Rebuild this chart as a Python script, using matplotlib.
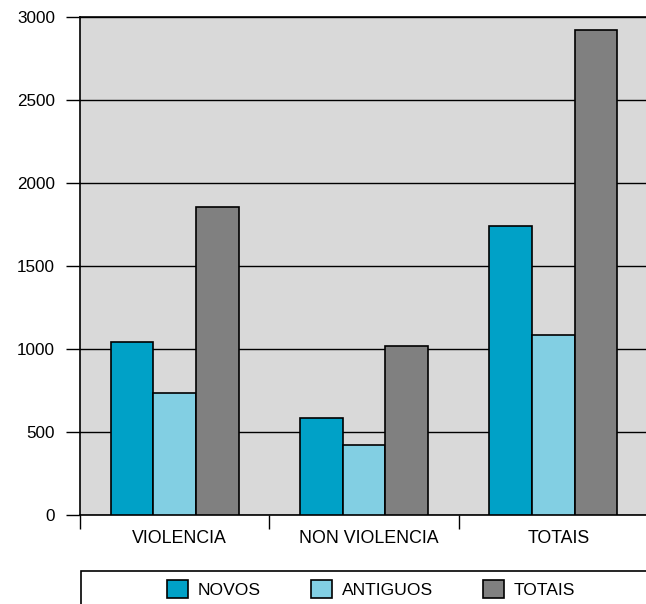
import matplotlib.pyplot as plt
import matplotlib.transforms as mtransforms
from matplotlib.patches import Rectangle
import numpy as np

plt.rcParams['font.family'] = ['Liberation Sans', 'DejaVu Sans']

# Data
categories = ['VIOLENCIA', 'NON VIOLENCIA', 'TOTAIS']
series_names = ['NOVOS', 'ANTIGUOS', 'TOTAIS']
novos = [1044, 582, 1743]
antiguos = [737, 423, 1082]
totais = [1857, 1020, 2920]
colors = ['#00A1C7', '#82CFE3', '#808080']

fig = plt.figure(figsize=(6.46, 6.04), dpi=100)
ax = fig.add_axes([80 / 646, 1 - 515 / 604, (648 - 80) / 646, (515 - 17) / 604])
ax.set_facecolor('#D9D9D9')

x = np.arange(len(categories))
width = 0.2256
bars = []
for i, (vals, col, name) in enumerate(zip([novos, antiguos, totais], colors, series_names)):
    b = ax.bar(x + (i - 1) * width, vals, width, color=col, edgecolor='black',
               linewidth=1.2, label=name, zorder=3)
    bars.append(b)

ax.set_xlim(-0.5, 2.5)
ax.set_ylim(0, 3000)
ax.set_yticks(np.arange(0, 3001, 500))
ax.yaxis.grid(True, color='black', linewidth=1.0, zorder=1)
ax.set_axisbelow(True)

# y ticks pointing outwards
ax.tick_params(axis='y', direction='out', length=10, width=1, pad=8, labelsize=12.3)

# category labels without ticks, boundary ticks as minor ticks
ax.set_xticks(x)
ax.set_xticklabels(categories)
ax.set_xticks([-0.5, 0.5, 1.5], minor=True)
ax.tick_params(axis='x', which='major', length=0, pad=11, labelsize=12.8)
ax.tick_params(axis='x', which='minor', direction='out', length=10, width=1)
offset = mtransforms.ScaledTranslation(5 / 100, 0, fig.dpi_scale_trans)
for lbl in ax.get_xticklabels():
    lbl.set_transform(lbl.get_transform() + offset)

for s in ['left', 'top', 'bottom']:
    ax.spines[s].set_color('black')
    ax.spines[s].set_linewidth(1.2)
ax.spines['right'].set_visible(False)

# legend box, partly outside the figure
fig.patches.append(Rectangle((81 / 646, -0.05), 1.0, 0.05 + (604 - 571) / 604,
                             transform=fig.transFigure, facecolor='white',
                             edgecolor='black', linewidth=1.2))
fig.legend(handles=bars, labels=series_names, loc='center',
           bbox_to_anchor=(371 / 646, 1 - 589 / 604), ncol=3, frameon=False,
           fontsize=12.6, handlelength=1.2, handleheight=1.2, handletextpad=0.55,
           columnspacing=2.9)

fig.savefig('out.png', dpi=100)
